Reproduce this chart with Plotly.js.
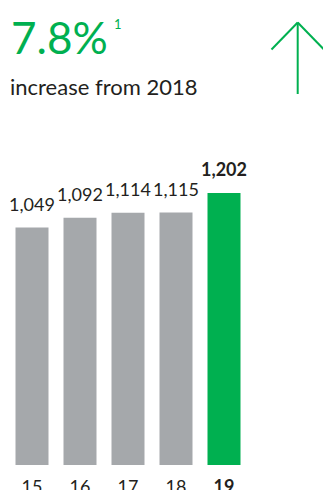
<!DOCTYPE html>
<html>
<head>
<meta charset="utf-8">
<script src="https://cdn.plot.ly/plotly-3.0.1.min.js"></script>
<style>
  html, body { margin: 0; padding: 0; background: #fff; }
  #chart { width: 323px; height: 490px; }
</style>
</head>
<body>
<div id="chart"></div>
<script>
// ---- data ----
const categories = ['15', '16', '17', '18', '19'];
const values = [1049, 1092, 1114, 1115, 1202];
const tickLabels = ['15', '16', '17', '18', '<b>19</b>'];
const headline = '7.8%';
const footnoteMark = '1';
const subtitle = 'increase from 2018';

// ---- styles ----
const GREEN = '#00B050';
const GRAY = '#A5A8AB';
const TEXT = '#231F20';
const FONT = 'Lato, "Open Sans", sans-serif';

const W = 323, H = 490;
const M = { l: 8, r: 75, t: 120, b: 25 };
const plotW = W - M.l - M.r, plotH = H - M.t - M.b;
const px = x => (x - M.l) / plotW;
const py = y => (H - M.b - y) / plotH;

const idx = categories.map((c, i) => i);
const barColors = values.map((v, i) => i === values.length - 1 ? GREEN : GRAY);

const trace = {
  type: 'bar',
  x: idx,
  y: values,
  marker: { color: barColors, line: { width: 0 } },
  hoverinfo: 'skip'
};

const fmt = v => v.toLocaleString('en-US');

const valueAnnotations = idx.map(i => {
  const last = i === categories.length - 1;
  return {
    x: i, y: values[i], xref: 'x', yref: 'y',
    text: last ? '<b>' + fmt(values[i]) + '</b>' : fmt(values[i]),
    showarrow: false, xanchor: 'center', yanchor: 'bottom',
    yshift: 11,
    font: { family: FONT, size: 18, color: TEXT }
  };
});

const textAnnotations = [
  {
    xref: 'paper', yref: 'paper', x: px(9), y: py(37),
    xanchor: 'left', yanchor: 'middle', showarrow: false,
    text: headline, font: { family: FONT, size: 44, color: GREEN }
  },
  {
    xref: 'paper', yref: 'paper', x: px(112), y: py(24),
    xanchor: 'left', yanchor: 'middle', showarrow: false,
    text: footnoteMark, font: { family: FONT, size: 13, color: GREEN }
  },
  {
    xref: 'paper', yref: 'paper', x: px(8), y: py(86),
    xanchor: 'left', yanchor: 'middle', showarrow: false,
    text: subtitle, font: { family: FONT, size: 22, color: TEXT }
  }
];

const arrowLine = { color: GREEN, width: 2 };
const shapes = [
  { type: 'line', xref: 'paper', yref: 'paper', x0: px(297.7), y0: py(94), x1: px(297.7), y1: py(22.5), line: arrowLine },
  { type: 'line', xref: 'paper', yref: 'paper', x0: px(271.5), y0: py(49.5), x1: px(297.7), y1: py(22.5), line: arrowLine },
  { type: 'line', xref: 'paper', yref: 'paper', x0: px(324), y0: py(49.5), x1: px(297.7), y1: py(22.5), line: arrowLine }
];

const layout = {
  width: W, height: H,
  margin: M,
  paper_bgcolor: '#fff', plot_bgcolor: '#fff',
  showlegend: false,
  bargap: 0.3125,
  xaxis: {
    type: 'linear',
    range: [-0.5, categories.length - 0.5],
    tickmode: 'array',
    tickvals: idx, ticktext: tickLabels,
    tickfont: { family: FONT, size: 18, color: TEXT },
    ticklabelstandoff: 9,
    showgrid: false, zeroline: false, showline: false, ticks: '',
    fixedrange: true
  },
  yaxis: {
    range: [0, 1524],
    visible: false, showgrid: false, zeroline: false, fixedrange: true
  },
  annotations: valueAnnotations.concat(textAnnotations),
  shapes: shapes
};

Plotly.newPlot('chart', [trace], layout, { displayModeBar: false, staticPlot: true });
</script>
</body>
</html>
